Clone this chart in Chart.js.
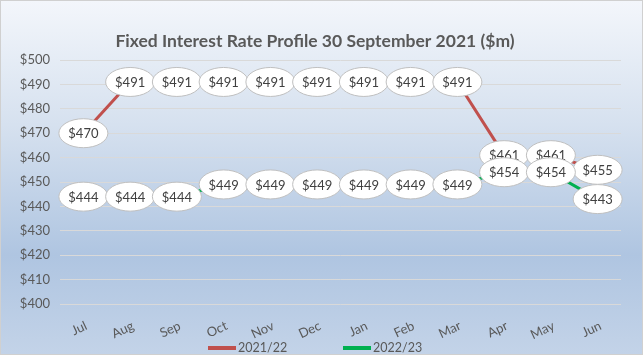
<!DOCTYPE html>
<html>
<head>
<meta charset="utf-8">
<script src="https://cdn.jsdelivr.net/npm/chart.js@4"></script>
<style>
  html, body { margin: 0; padding: 0; }
  #wrap {
    width: 641px; height: 353px;
    border: 1px solid #d0d0d0;
    background: linear-gradient(to bottom, #f3f6fb 0%, #d6e1ef 35%, #afc5e1 72%, #c3d3e8 100%);
  }
</style>
</head>
<body>
<div id="wrap"><canvas id="chart" width="641" height="353"></canvas></div>
<script>
// categories and series
const months = ['Jul', 'Aug', 'Sep', 'Oct', 'Nov', 'Dec', 'Jan', 'Feb', 'Mar', 'Apr', 'May', 'Jun'];
const fy2122 = [470, 491, 491, 491, 491, 491, 491, 491, 491, 461, 461, 455];
const fy2223 = [444, 444, 444, 449, 449, 449, 449, 449, 449, 454, 454, 443];
const seriesNames = ['2021/22', '2022/23'];
const seriesColors = ['#c0504d', '#00b050'];

const fontName = 'Lato, "Open Sans", sans-serif';

// oval data labels drawn on top of every point
const ovalLabels = {
    id: 'ovalLabels',
    afterDatasetsDraw(chart) {
        const ctx = chart.ctx;
        chart.data.datasets.forEach((ds, i) => {
            const meta = chart.getDatasetMeta(i);
            meta.data.forEach((pt, j) => {
                ctx.save();
                ctx.beginPath();
                ctx.ellipse(pt.x, pt.y, 24.5, 14.5, 0, 0, Math.PI * 2);
                ctx.fillStyle = '#ffffff';
                ctx.fill();
                ctx.lineWidth = 1;
                ctx.strokeStyle = '#bfbfbf';
                ctx.stroke();
                ctx.fillStyle = '#404040';
                ctx.font = '13px ' + fontName;
                ctx.textAlign = 'center';
                ctx.textBaseline = 'middle';
                ctx.fillText('$' + ds.data[j], pt.x, pt.y + 1);
                ctx.restore();
            });
        });
    }
};

// legend at the bottom, spaced like the original
const bottomLegend = {
    id: 'bottomLegend',
    afterDraw(chart) {
        const ctx = chart.ctx;
        const starts = [207, 342];
        const y = 347;
        chart.data.datasets.forEach((ds, i) => {
            ctx.save();
            ctx.strokeStyle = ds.borderColor;
            ctx.lineWidth = 4;
            ctx.beginPath();
            ctx.moveTo(starts[i], y);
            ctx.lineTo(starts[i] + 28, y);
            ctx.stroke();
            ctx.fillStyle = '#595959';
            ctx.font = '12.5px ' + fontName;
            ctx.textAlign = 'left';
            ctx.textBaseline = 'middle';
            ctx.fillText(ds.label, starts[i] + 30, y);
            ctx.restore();
        });
    }
};

const ctx = document.getElementById('chart').getContext('2d');
new Chart(ctx, {
    type: 'line',
    data: {
        labels: months,
        datasets: [
            {
                label: seriesNames[0],
                data: fy2122,
                borderColor: seriesColors[0],
                backgroundColor: seriesColors[0],
                borderWidth: 3,
                pointRadius: 0,
                tension: 0
            },
            {
                label: seriesNames[1],
                data: fy2223,
                borderColor: seriesColors[1],
                backgroundColor: seriesColors[1],
                borderWidth: 3,
                pointRadius: 0,
                tension: 0
            }
        ]
    },
    options: {
        responsive: false,
        animation: false,
        layout: { padding: { left: 8, right: 21, top: 0, bottom: 14 } },
        scales: {
            x: {
                offset: true,
                grid: { display: false },
                border: { display: false },
                ticks: {
                    color: '#595959',
                    font: { family: fontName, size: 13 },
                    minRotation: 25,
                    maxRotation: 25,
                    labelOffset: 3,
                    padding: 6
                },
                afterFit: (scale) => { scale.height = 36; }
            },
            y: {
                min: 400,
                max: 500,
                grid: { color: '#d9d9d9', drawTicks: false },
                border: { display: false },
                ticks: {
                    stepSize: 10,
                    color: '#595959',
                    font: { family: fontName, size: 13 },
                    padding: 10,
                    callback: (v) => '$' + v
                },
                afterFit: (scale) => { scale.width = 51; }
            }
        },
        plugins: {
            title: {
                display: true,
                text: 'Fixed Interest Rate Profile 30 September 2021 ($m)',
                color: '#595959',
                font: { family: fontName, size: 17.5, weight: 'bold' },
                padding: { top: 30, bottom: 8 }
            },
            legend: { display: false },
            tooltip: { enabled: false }
        }
    },
    plugins: [ovalLabels, bottomLegend]
});
</script>
</body>
</html>
